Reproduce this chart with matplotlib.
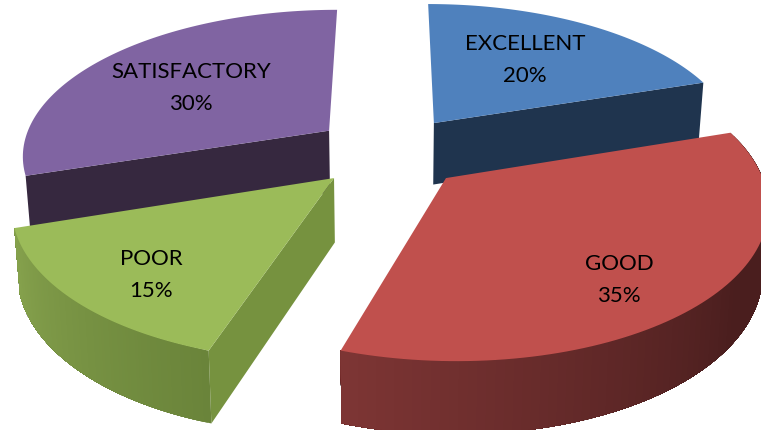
import numpy as np
import matplotlib
matplotlib.use("Agg")
import matplotlib.pyplot as plt
from matplotlib.colors import to_rgb

categories = ["EXCELLENT", "GOOD", "POOR", "SATISFACTORY"]
shares = [20, 35, 15, 30]

top_colors = ["#4f81bd", "#c0504d", "#9bbb59", "#8064a2"]
cut_colors = ["#1f344e", "#4a1e1e", "#76923f", "#36283f"]
wall_start = ["#1f344e", "#4a1e1e", "#6a843a", "#36283f"]
wall_end = ["#1f344e", "#7d3534", "#86a24d", "#36283f"]
label_xy = [(525, 60), (619, 280), (151, 275), (191, 88)]

# Which side faces the viewer can see: arc end index for the cut face,
# and whether the curved wall shows
visible_cut = [-1, None, 0, 0]
visible_wall = [False, True, True, False]

# Perspective camera for the exploded disc
CX, CY = 390.0, 152.6
FX, FY = 308.0, 145.6
PERSP = 0.155
EXPLODE = 0.25
DEPTH = 63.0
DEPTH_PERSP = 0.12
BASE_SHRINK = 0.985


def project(X, Z):
    s = 1.0 / (1.0 + PERSP * Z)
    return CX + FX * X * s, CY - FY * Z * s


def drop(x, y, Z):
    return CX + (x - CX) * BASE_SHRINK, y + DEPTH / (1.0 + DEPTH_PERSP * Z)


fig = plt.figure(figsize=(7.61, 4.31), dpi=100, facecolor="white")
ax = fig.add_axes([0, 0, 1, 1])
ax.set_xlim(0, 761)
ax.set_ylim(431, 0)
ax.axis("off")

fractions = np.array(shares, dtype=float) / sum(shares)
edges = np.concatenate([[0.0], np.cumsum(fractions)]) * 2 * np.pi

# Back wedges first so the nearer ones overlap them
for layer, i in enumerate((3, 0, 1, 2)):
    z = layer * 10
    t0, t1 = edges[i], edges[i + 1]
    mid = 0.5 * (t0 + t1)
    ox, oz = EXPLODE * np.sin(mid), EXPLODE * np.cos(mid)
    theta = np.linspace(t0, t1, 90)
    Xa, Za = ox + np.sin(theta), oz + np.cos(theta)
    xa, ya = project(Xa, Za)
    xb, yb = drop(xa, ya, Za)
    tip_x, tip_y = project(ox, oz)
    base_x, base_y = drop(tip_x, tip_y, oz)

    # Cut face from the wedge tip to one end of the arc
    k = visible_cut[i]
    if k is not None:
        ax.fill([tip_x, xa[k], xb[k], base_x], [tip_y, ya[k], yb[k], base_y],
                color=cut_colors[i], lw=0, zorder=z + 1)

    # Curved outer wall; each strip runs to the arc's end so the next one
    # paints over it and no seams appear
    if visible_wall[i]:
        c0, c1 = np.array(to_rgb(wall_start[i])), np.array(to_rgb(wall_end[i]))
        n = len(theta)
        for j in range(n - 1):
            u = j / (n - 2)
            if i == 1:
                u = np.clip((u - 0.42) / 0.58, 0, 1)
            col = c0 + (c1 - c0) * u
            ax.fill(np.r_[xa[j:], xb[j:][::-1]], np.r_[ya[j:], yb[j:][::-1]],
                    color=col, lw=0, zorder=z + 2)

    ax.fill(np.r_[tip_x, xa], np.r_[tip_y, ya], color=top_colors[i], lw=0,
            zorder=z + 3)

for name, share, (lx, ly) in zip(categories, shares, label_xy):
    ax.text(lx, ly, f"{name}\n{share}%", ha="center", va="center",
            fontsize=16, family="Lato", color="black", linespacing=1.75,
            zorder=100)

fig.savefig("out.png", dpi=100, facecolor="white")
